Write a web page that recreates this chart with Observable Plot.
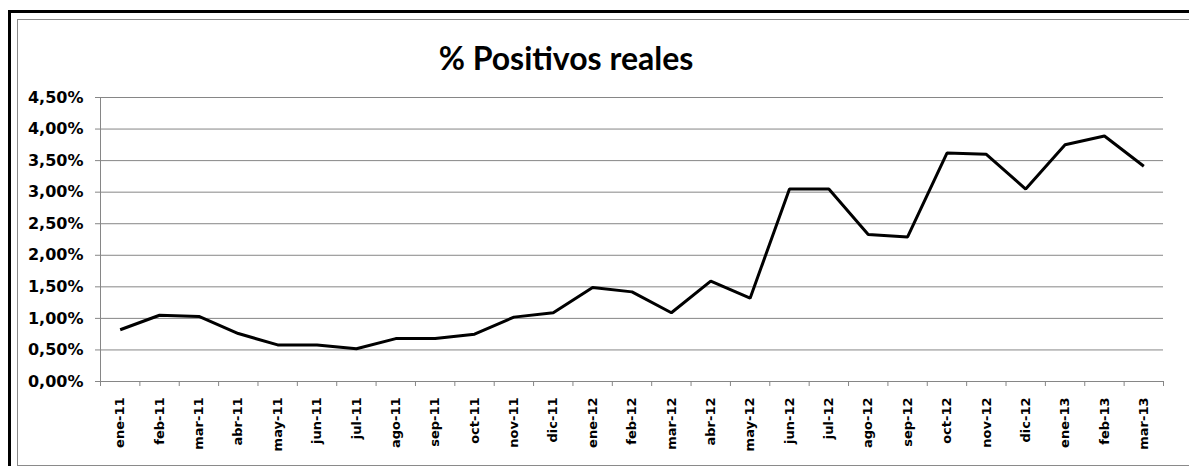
<!DOCTYPE html>
<html>
<head>
<meta charset="utf-8">
<script src="https://cdn.jsdelivr.net/npm/d3@7"></script>
<script src="https://cdn.jsdelivr.net/npm/@observablehq/plot@0.6"></script>
<style>
  html, body { margin: 0; padding: 0; background: #fff; overflow: hidden; }
  #wrap { position: relative; width: 1189px; height: 466px; overflow: hidden; }
  .outer { position: absolute; left: 8px; top: 10px; width: 1191px; height: 480px; border-top: 3px solid #000; border-left: 3px solid #000; box-sizing: border-box; }
  .inner { position: absolute; left: 17px; top: 19px; width: 1182px; height: 447px; border-top: 1.5px solid #8a8a8a; border-left: 1.5px solid #8a8a8a; border-bottom: 1.5px solid #8a8a8a; box-sizing: border-box; }
  .title { position: absolute; left: 0; top: 42px; width: 1132px; text-align: center; font-family: Lato, sans-serif; font-weight: bold; font-size: 32px; line-height: 32px; color: #000; }
  #chart { position: absolute; left: 0; top: 0; width: 1189px; height: 466px; }
  #chart svg { max-width: none !important; }
</style>
</head>
<body>
<div id="wrap">
  <div class="outer"></div>
  <div class="inner"></div>
  <div class="title">% Positivos reales</div>
  <div id="chart"></div>
</div>
<script>
const months = ["ene-11","feb-11","mar-11","abr-11","may-11","jun-11","jul-11","ago-11","sep-11","oct-11","nov-11","dic-11",
                "ene-12","feb-12","mar-12","abr-12","may-12","jun-12","jul-12","ago-12","sep-12","oct-12","nov-12","dic-12",
                "ene-13","feb-13","mar-13"];
const values = [0.82, 1.05, 1.03, 0.76, 0.58, 0.58, 0.52, 0.68, 0.68, 0.75, 1.02, 1.09,
                1.49, 1.42, 1.09, 1.59, 1.32, 3.05, 3.05, 2.33, 2.29, 3.62, 3.60, 3.05,
                3.75, 3.89, 3.41];
const yTicks = [0, 0.5, 1, 1.5, 2, 2.5, 3, 3.5, 4, 4.5];

const data = months.map((m, i) => ({i, month: m, value: values[i]}));
const bounds = d3.range(months.length + 1).map(k => k - 0.5);
const fmt = v => v.toFixed(2).replace(".", ",") + "%";
const gray = "#868686";
const tickFont = "'DejaVu Sans', Verdana, sans-serif";

const plot = Plot.plot({
  width: 1189,
  height: 466,
  marginLeft: 100,
  marginRight: 26,
  marginTop: 97,
  marginBottom: 85,
  style: {fontFamily: tickFont, background: "transparent", overflow: "visible"},
  x: {type: "linear", domain: [-0.5, months.length - 0.5]},
  y: {domain: [0, 4.5]},
  marks: [
    Plot.gridY(yTicks, {stroke: gray, strokeOpacity: 1, strokeWidth: 1}),
    Plot.ruleX([-0.5], {stroke: gray, strokeWidth: 1}),
    Plot.axisY(yTicks, {tickSize: 5, stroke: gray, strokeOpacity: 1, tickFormat: () => "", label: null}),
    Plot.axisX(bounds, {tickSize: 5, stroke: gray, strokeOpacity: 1, tickFormat: () => "", label: null}),
    Plot.text(yTicks, {y: d => d, text: fmt, frameAnchor: "left", textAnchor: "end", dx: -17,
      fontSize: 16, fontWeight: "bold", fill: "#000"}),
    Plot.text(data, {x: "i", text: "month", frameAnchor: "bottom", rotate: -90, textAnchor: "end",
      lineAnchor: "middle", dy: 16, fontSize: 13, fontWeight: "bold", fill: "#000"}),
    Plot.ruleY([0], {stroke: gray, strokeWidth: 1}),
    Plot.line(data, {x: "i", y: "value", stroke: "#000", strokeWidth: 3, strokeLinejoin: "miter", strokeLinecap: "butt"})
  ]
});
document.getElementById("chart").appendChild(plot);
</script>
</body>
</html>
